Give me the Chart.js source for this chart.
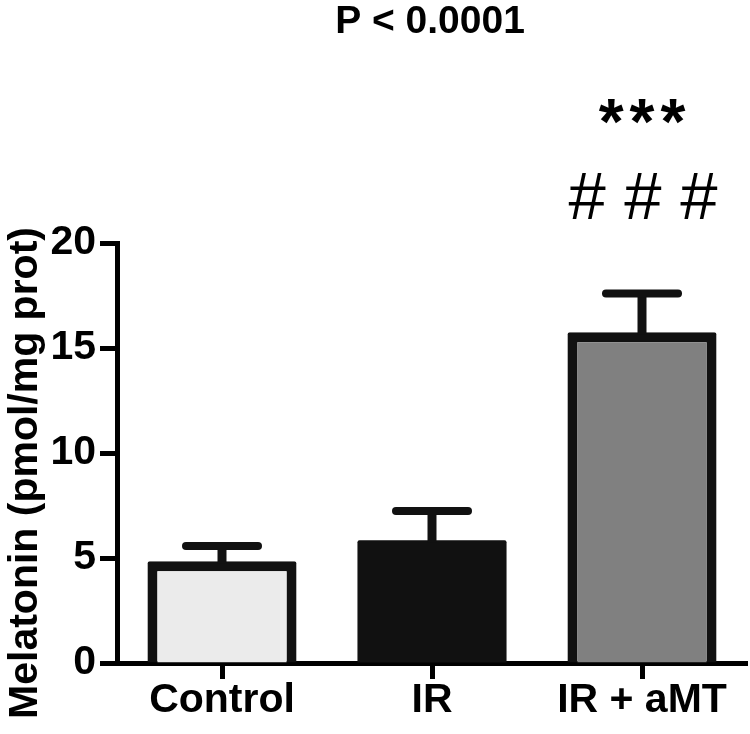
<!DOCTYPE html>
<html>
<head>
<meta charset="utf-8">
<script src="https://cdn.jsdelivr.net/npm/chart.js@4"></script>
<style>
  html, body { margin: 0; padding: 0; background: #fff; }
  #wrap { width: 750px; height: 734px; }
</style>
</head>
<body>
<div id="wrap"><canvas id="c" width="750" height="734"></canvas></div>
<script>
const categories = ["Control", "IR", "IR + aMT"];
const meanValues = [4.85, 5.85, 15.75];
const semValues = [0.72, 1.39, 1.85];
const yTicks = [0, 5, 10, 15, 20];
const titleText = "P < 0.0001";
const yTitle = "Melatonin (pmol/mg prot)";
const starLabels = ["", "", "***"];
const hashLabels = ["", "", "# # #"];

const FONT = "'Liberation Sans', Arial, sans-serif";

const overlay = {
  id: "overlay",
  afterDatasetsDraw(chart) {
    const ctx = chart.ctx;
    const y = chart.scales.y;
    const meta = chart.getDatasetMeta(0);
    ctx.save();
    ctx.strokeStyle = "#111";
    meanValues.forEach((v, i) => {
      const cx = meta.data[i].x;
      const yTop = y.getPixelForValue(v);
      const yErr = y.getPixelForValue(v + semValues[i]);
      ctx.lineWidth = 9;
      ctx.lineCap = "butt";
      ctx.beginPath();
      ctx.moveTo(cx, yTop + 2);
      ctx.lineTo(cx, yErr);
      ctx.stroke();
      ctx.lineWidth = 8;
      ctx.lineCap = "round";
      ctx.beginPath();
      ctx.moveTo(cx - 36, yErr);
      ctx.lineTo(cx + 36, yErr);
      ctx.stroke();
    });
    ctx.restore();
  },
  afterDraw(chart) {
    const ctx = chart.ctx;
    const area = chart.chartArea;
    const meta = chart.getDatasetMeta(0);
    ctx.save();
    ctx.fillStyle = "#000";
    ctx.textAlign = "center";
    ctx.textBaseline = "alphabetic";
    ctx.font = "bold 39px " + FONT;
    ctx.fillText(titleText, (area.left + area.right) / 2 - 2, 33);
    starLabels.forEach((s, i) => {
      if (!s) return;
      ctx.font = "bold 64px " + FONT;
      ctx.letterSpacing = "6px";
      ctx.fillText(s, meta.data[i].x + 3, 144);
      ctx.letterSpacing = "0px";
    });
    hashLabels.forEach((s, i) => {
      if (!s) return;
      ctx.font = "67px " + FONT;
      ctx.fillText(s, meta.data[i].x + 1, 219);
    });
    ctx.translate(37, 473);
    ctx.rotate(-Math.PI / 2);
    ctx.font = "bold 41px " + FONT;
    ctx.fillText(yTitle, 0, 0);
    ctx.restore();
  }
};

new Chart(document.getElementById("c"), {
  type: "bar",
  data: {
    labels: categories,
    datasets: [{
      data: meanValues,
      backgroundColor: ["#ebebeb", "#111111", "#808080"],
      borderColor: "#111111",
      borderWidth: [10, 0, 10],
      borderSkipped: "start",
      borderRadius: 2,
      barPercentage: 0.71,
      categoryPercentage: 1.0
    }]
  },
  options: {
    responsive: false,
    animation: false,
    devicePixelRatio: 1,
    layout: { padding: { top: 243, right: 3, left: 0, bottom: 0 } },
    plugins: { legend: { display: false }, tooltip: { enabled: false }, title: { display: false } },
    scales: {
      x: {
        afterFit(s) { s.height = 71; },
        grid: { display: true, offset: false, drawOnChartArea: false, drawTicks: true, tickLength: 16, tickWidth: 5, tickColor: "#000" },
        border: { display: true, color: "#000", width: 5 },
        ticks: { color: "#000", font: { family: FONT, size: 41, weight: "bold" }, padding: -3, maxRotation: 0 }
      },
      y: {
        min: 0, max: 20,
        afterFit(s) { s.width = 117; },
        afterBuildTicks(s) { s.ticks = yTicks.map(v => ({ value: v })); },
        grid: { display: true, drawOnChartArea: false, drawTicks: true, tickLength: 17, tickWidth: 5, tickColor: "#000" },
        border: { display: true, color: "#000", width: 5 },
        ticks: { color: "#000", font: { family: FONT, size: 41, weight: "bold" }, padding: 4 }
      }
    }
  },
  plugins: [overlay]
});
</script>
</body>
</html>
